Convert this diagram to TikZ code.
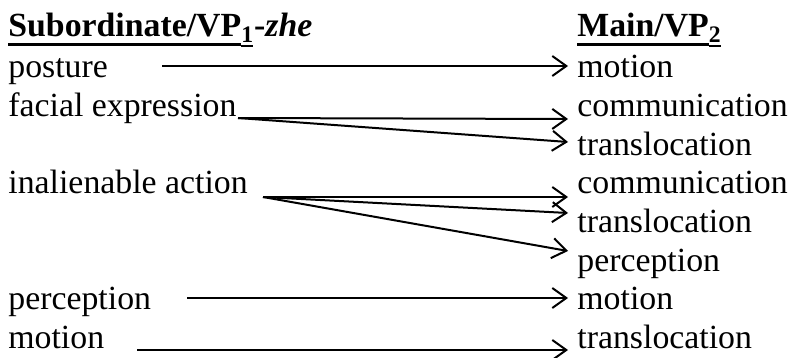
\documentclass[tikz,border=0pt]{standalone}
\usepackage{fontspec}
\setmainfont{Liberation Serif}
\newfontfamily\timesfont{Liberation Serif}
\usetikzlibrary{arrows.meta}
% underline drawn as a rule below a box: main words and subscripts
\newcommand\ulword[1]{\setbox0=\hbox{#1}\rlap{\rule[-4.6pt]{\wd0}{1.5pt}}\box0}
\newcommand\ulsub[1]{\setbox0=\hbox{#1}\rlap{\rule[-2.6pt]{\wd0}{1.1pt}}\box0}
\begin{document}
\begin{tikzpicture}[x=0.5pt,y=-0.5pt,
  txt/.style={anchor=base west, inner sep=0pt, font=\timesfont\fontsize{16.9pt}{19.3pt}\selectfont},
  link/.style={line width=1pt, -{Straight Barb[length=7pt,width=10pt]}}]
\useasboundingbox (0,0) rectangle (791,358);

% column headings
\node[txt] (h1) at (8,37) {\bfseries\ulword{Subordinate/VP}\textsubscript{\ulsub{1}}-\textit{zhe}};
\node[txt] (h2) at (577,37) {\bfseries\ulword{Main/VP}\textsubscript{\ulsub{2}}};

% subordinate verbs
\node[txt] (l1) at (8,78)    {posture};
\node[txt] (l2) at (8,116.6) {facial expression};
\node[txt] (l3) at (8,193.8) {inalienable action};
\node[txt] (l4) at (8,309.6) {perception};
\node[txt] (l5) at (8,348.2) {motion};

% main verbs
\node[txt] (r1) at (577,78)    {motion};
\node[txt] (r2) at (577,116.6) {communication};
\node[txt] (r3) at (577,155.2) {translocation};
\node[txt] (r4) at (577,193.8) {communication};
\node[txt] (r5) at (577,232.4) {translocation};
\node[txt] (r6) at (577,271)   {perception};
\node[txt] (r7) at (577,309.6) {motion};
\node[txt] (r8) at (577,348.2) {translocation};

% arrow tails
\coordinate (t1) at (162,66);
\coordinate (t2) at (238,118);
\coordinate (t3) at (263,197);
\coordinate (t4) at (187,298);
\coordinate (t5) at (137,350);

% arrow heads
\coordinate (a1) at (568,66);
\coordinate (a2) at (568,119);
\coordinate (a3) at (568,142);
\coordinate (a4) at (568,197);
\coordinate (a5) at (568,213);
\coordinate (a6) at (568,251);
\coordinate (a7) at (568,298);
\coordinate (a8) at (568,350);

\draw[link] (t1) -- (a1);
\draw[link] (t2) -- (a2);
\draw[link] (t2) -- (a3);
\draw[link] (t3) -- (a4);
\draw[link] (t3) -- (a5);
\draw[link] (t3) -- (a6);
\draw[link] (t4) -- (a7);
\draw[link] (t5) -- (a8);
\end{tikzpicture}
\end{document}
